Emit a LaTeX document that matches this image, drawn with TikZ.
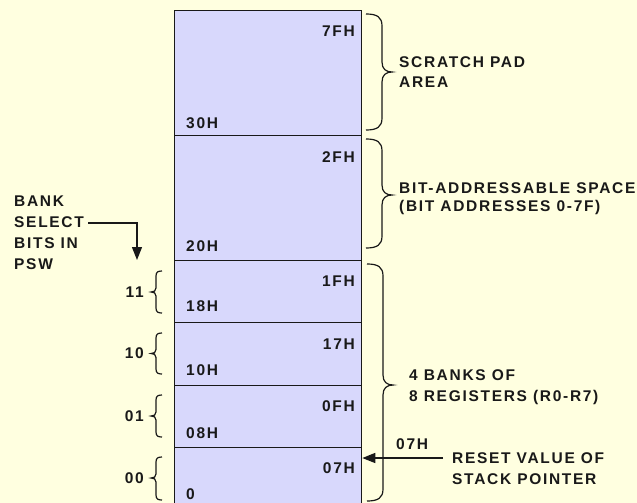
\documentclass[tikz,border=0pt]{standalone}
\usepackage{fontspec}
\setmainfont{Liberation Sans Bold}[LetterSpace=11]
\usetikzlibrary{arrows.meta}
\definecolor{bgyellow}{RGB}{255,255,224}
\definecolor{rowfill}{RGB}{216,216,252}
\definecolor{inkc}{RGB}{25,25,25}
\newcommand{\myRbrace}[4]{%
  \draw[bracestyle] (#1,#2) .. controls (#1+11,#2) and (#1+16,#2+3) .. (#1+16,#2+12)
   -- (#1+16,#4-10) .. controls (#1+16,#4-3) and (#1+20,#4) .. (#1+26,#4)
   .. controls (#1+20,#4) and (#1+16,#4+3) .. (#1+16,#4+10)
   -- (#1+16,#3-12) .. controls (#1+16,#3-3) and (#1+11,#3) .. (#1,#3);}
\newcommand{\myLbrace}[4]{%
  \draw[bracestyle] (#1,#2) .. controls (#1-4,#2) and (#1-6,#2+1) .. (#1-6,#2+5)
   -- (#1-6,#4-4) .. controls (#1-6,#4-1) and (#1-8,#4) .. (#1-11,#4)
   .. controls (#1-8,#4) and (#1-6,#4+1) .. (#1-6,#4+4)
   -- (#1-6,#3-5) .. controls (#1-6,#3-1) and (#1-4,#3) .. (#1,#3);}
\begin{document}
\begin{tikzpicture}[x=1pt,y=-1pt,
  rowbox/.style={draw=inkc,line width=1.3pt,fill=rowfill,inner sep=0pt,
    minimum width=187pt,anchor=north west},
  lab/.style={inner sep=0pt,text=inkc,font=\fontsize{15.5pt}{21pt}\selectfont},
  bracestyle/.style={draw=inkc,line width=1.2pt},
  conn/.style={draw=inkc,line width=1.3pt},
  tip/.style={-{Triangle[length=13pt,width=10pt]}}]
\useasboundingbox (0,0) rectangle (637,503);
\fill[bgyellow] (0,0) rectangle (637,503);
% memory rows
\node[rowbox,minimum height=125pt] (r1) at (174,10) {};
\node[rowbox,minimum height=125pt] (r2) at (174,135) {};
\node[rowbox,minimum height=62pt] (r3) at (174,260) {};
\node[rowbox,minimum height=63pt] (r4) at (174,322) {};
\node[rowbox,minimum height=62pt] (r5) at (174,385) {};
\node[rowbox,minimum height=60pt] (r6) at (174,447) {};
% addresses
\node[lab,anchor=base east] (a7f) at (355,37) {7FH};
\node[lab,anchor=base west] (a30) at (186,128) {30H};
\node[lab,anchor=base east] (a2f) at (355,162) {2FH};
\node[lab,anchor=base west] (a20) at (186,251) {20H};
\node[lab,anchor=base east] (a1f) at (355,286) {1FH};
\node[lab,anchor=base west] (a18) at (186,311) {18H};
\node[lab,anchor=base east] (a17) at (355,349) {17H};
\node[lab,anchor=base west] (a10) at (186,375) {10H};
\node[lab,anchor=base east] (a0f) at (355,411) {0FH};
\node[lab,anchor=base west] (a08) at (186,438) {08H};
\node[lab,anchor=base east] (a07) at (355,473) {07H};
\node[lab,anchor=base west] (a00) at (186,499) {0};
% right braces
\myRbrace{366}{14}{130}{72}
\myRbrace{366}{139}{248}{195}
\myRbrace{367}{264}{501}{385}
% right texts
\node[lab,anchor=base west] (sp1) at (399,67) {SCRATCH PAD};
\node[lab,anchor=base west] (sp2) at (399,88) {AREA};
\node[lab,anchor=base west] (ba1) at (399,193) {BIT-ADDRESSABLE SPACE};
\node[lab,anchor=base west] (ba2) at (399,211) {(BIT ADDRESSES 0-7F)};
\node[lab,anchor=base west] (rb1) at (409,380) {4 BANKS OF};
\node[lab,anchor=base west] (rb2) at (409,401) {8 REGISTERS (R0-R7)};
\node[lab,anchor=base west] (sp07) at (396,449) {07H};
\node[lab,anchor=base west] (rs1) at (452,463) {RESET VALUE OF};
\node[lab,anchor=base west] (rs2) at (452,484) {STACK POINTER};
% stack pointer arrow
\coordinate (spstart) at (443,458);
\draw[conn,tip] (spstart) -- (spstart -| r6.east);
% left braces and bank numbers
\myLbrace{162}{271}{313}{292}
\myLbrace{162}{333}{374}{353.5}
\myLbrace{162}{395}{437}{416}
\myLbrace{162}{457}{500}{478}
\node[lab,anchor=base east] (b11) at (144,297) {11};
\node[lab,anchor=base east] (b10) at (144,358) {10};
\node[lab,anchor=base east] (b01) at (144,421) {01};
\node[lab,anchor=base east] (b00) at (144,483) {00};
% bank select
\node[lab,anchor=base west] (bs1) at (14,206) {BANK};
\node[lab,anchor=base west] (bs2) at (14,227) {SELECT};
\node[lab,anchor=base west] (bs3) at (14,248) {BITS IN};
\node[lab,anchor=base west] (bs4) at (14,269) {PSW};
\coordinate (bsstart) at (88,223);
\coordinate (bstip) at (137,260);
\draw[conn,tip] (bsstart) -| (bstip);
\end{tikzpicture}
\end{document}
